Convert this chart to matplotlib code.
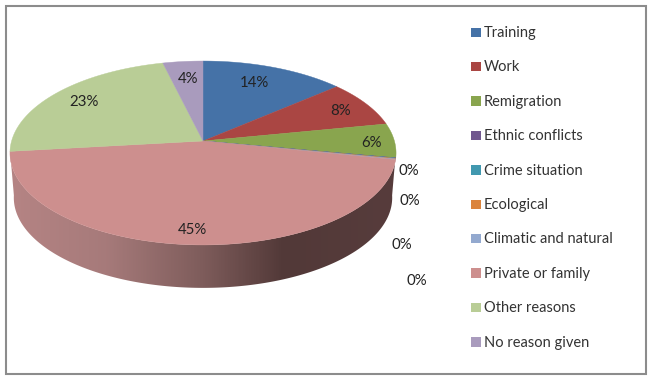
import numpy as np
import matplotlib
matplotlib.use("Agg")
import matplotlib.pyplot as plt
from matplotlib.colors import LinearSegmentedColormap
from matplotlib.patches import Polygon, Rectangle

categories = ["Training", "Work", "Remigration", "Ethnic conflicts", "Crime situation",
              "Ecological", "Climatic and natural", "Private or family", "Other reasons",
              "No reason given"]
values = [13.7, 8.2, 6, 0.05, 0.05, 0.1, 0.1, 45, 23, 3.8]
pct_labels = ["14%", "8%", "6%", "0%", "0%", "0%", "0%", "45%", "23%", "4%"]
colors = ["#4572A7", "#AA4643", "#89A54E", "#71588F", "#4198AF",
          "#DB843D", "#93A9CF", "#CD8F8E", "#B9CD96", "#A99BBD"]

# pixel layout, the axes are in image pixels
cx, cy = 203, 141
A, C, K = 191.4, 90.4, 0.1304
drop, shrink = 45, 0.98
label_xy = [(254, 82), (341, 110), (372, 142), (409, 170), (410, 200),
            (402, 244), (417, 280), (192, 229), (84, 101), (188, 78)]


def project(theta, scale=1.0, dy=0.0):
    # theta clockwise from 12 o'clock, perspective view of the disc
    u, v = np.sin(theta), np.cos(theta)
    den = 1 + K * v
    return cx + scale * A * u / den, cy + dy - scale * C * v / den


fig = plt.figure(figsize=(6.54, 3.79), dpi=100)
ax = fig.add_axes([0, 0, 1, 1])

plt.rcParams["font.family"] = "Lato"

# side wall
t = np.linspace(np.radians(96), np.radians(264), 200)
x_top, y_top = project(t)
x_bot, y_bot = project(t, shrink, drop)
wall = Polygon(np.r_[np.c_[x_top, y_top], np.c_[x_bot, y_bot][::-1]], closed=True,
               transform=ax.transData, facecolor="none", edgecolor="none")
ax.add_patch(wall)
wall_cmap = LinearSegmentedColormap.from_list(
    "wall", [(0, "#b58484"), (0.25, "#a67a7a"), (0.5, "#7e5c5b"),
             (0.71, "#523938"), (1, "#573c3c")])
img = ax.imshow(np.linspace(0, 1, 400)[None, :], cmap=wall_cmap, aspect="auto",
                extent=(10, 396, 300, 140), zorder=1)
img.set_clip_path(wall)

# top face
edges = np.cumsum([0] + values) / sum(values) * 2 * np.pi
for i in range(len(values)):
    th = np.linspace(edges[i], edges[i + 1], 80)
    px, py = project(th)
    ax.fill(np.r_[cx, px], np.r_[cy, py], color=colors[i], lw=0.3, zorder=2)

for lab, (lx, ly) in zip(pct_labels, label_xy):
    ax.text(lx, ly + 1, lab, ha="center", va="center", fontsize=10.8, color="#222222", zorder=3)

# legend
for i, name in enumerate(categories):
    y = 32 + i * 34.4
    ax.add_patch(Rectangle((471, y - 4.5), 9.5, 9.5, facecolor=colors[i], edgecolor="none"))
    ax.text(484, y + 1, name, ha="left", va="center", fontsize=10.5, color="#333333")

# outer frame
ax.add_patch(Rectangle((5.5, 5.5), 640.5, 368.5, facecolor="none", edgecolor="#8c8c8c", lw=1.5))

ax.set_xlim(0, 654)
ax.set_ylim(379, 0)
ax.axis("off")
fig.savefig("out.png", dpi=100)
